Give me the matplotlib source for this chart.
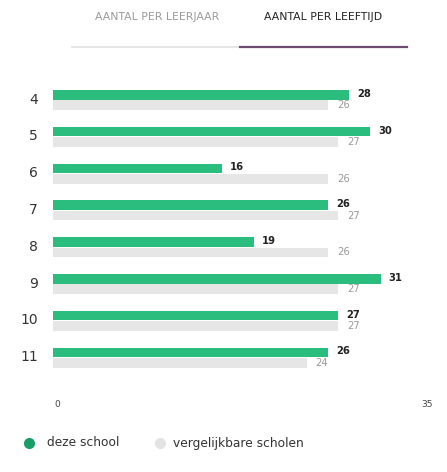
import matplotlib.pyplot as plt
import matplotlib.transforms as mtransforms
import numpy as np

plt.rcParams['font.family'] = ['DejaVu Sans']

ages = ['4', '5', '6', '7', '8', '9', '10', '11']
deze_school = [28, 30, 16, 26, 19, 31, 27, 26]
vergelijkbaar = [26, 27, 26, 27, 26, 27, 27, 24]
tabs = ['AANTAL PER LEERJAAR', 'AANTAL PER LEEFTIJD']
legend_names = ['deze school', 'vergelijkbare scholen']

green = '#2bbd7e'
grey = '#e6e6e6'

W, H = 447, 472
fig = plt.figure(figsize=(W / 100, H / 100), dpi=100)

def px(x0, y0, x1, y1):
    # pixel box (top-left origin) -> figure fraction rect
    return [x0 / W, 1 - y1 / H, (x1 - x0) / W, (y1 - y0) / H]

#---------- tabs ----------
fig.text(157 / W, 1 - 17 / H, tabs[0], ha='center', va='center',
         fontsize=7.8, color='#9a9a9a')
fig.text(323 / W, 1 - 17 / H, tabs[1], ha='center', va='center',
         fontsize=7.8, color='#222222')
fig.add_artist(plt.Line2D([72 / W, 238 / W], [1 - 47 / H, 1 - 47 / H],
                          color='#e2e2e2', lw=1.2))
fig.add_artist(plt.Line2D([240 / W, 407 / W], [1 - 47 / H, 1 - 47 / H],
                          color='#6e4a6e', lw=1.6))

#---------- bars ----------
ax = fig.add_axes(px(53, 81.6, 423, 376))
y = np.arange(len(ages))
h = 0.26
ax.barh(y - h / 2 - 0.01, deze_school, height=h, color=green)
ax.barh(y + h / 2 + 0.01, vergelijkbaar, height=h, color=grey)

for i in range(len(ages)):
    ax.annotate(str(deze_school[i]), (deze_school[i], y[i] - h / 2 - 0.04),
                xytext=(8, 0), textcoords='offset pixels', ha='left', va='center',
                fontsize=7.2, fontweight='bold', color='#222222')
    ax.annotate(str(vergelijkbaar[i]), (vergelijkbaar[i], y[i] + h / 2 + 0.01),
                xytext=(9, 0), textcoords='offset pixels', ha='left', va='center',
                fontsize=7.2, color='#999999')

ax.set_xlim(0, 35)
ax.set_ylim(len(ages) - 0.5, -0.5)
ax.set_yticks(y)
ax.set_yticklabels(ages, fontsize=10, color='#333333')
ax.tick_params(axis='y', length=0, pad=11)
shift_y = mtransforms.ScaledTranslation(0, 2 / 100, fig.dpi_scale_trans)
for lbl in ax.get_yticklabels():
    lbl.set_transform(lbl.get_transform() + shift_y)
ax.set_xticks([0, 35])
ax.set_xticklabels(['0', '35'], fontsize=6.5, color='#444444')
ax.tick_params(axis='x', length=0, pad=17)
shift = mtransforms.ScaledTranslation(4 / 100, 0, fig.dpi_scale_trans)
for lbl in ax.get_xticklabels():
    lbl.set_transform(lbl.get_transform() + shift)
for s in ax.spines.values():
    s.set_visible(False)

#---------- legend ----------
fig.add_artist(plt.Line2D([29 / W], [1 - 443 / H], marker='o', markersize=7,
                          color='#1a9e68', lw=0))
fig.text(47 / W, 1 - 443 / H, legend_names[0], ha='left', va='center',
         fontsize=8.8, color='#333333')
fig.add_artist(plt.Line2D([160 / W], [1 - 443 / H], marker='o', markersize=7,
                          color='#e3e3e3', lw=0))
fig.text(173 / W, 1 - 443 / H, legend_names[1], ha='left', va='center',
         fontsize=8.8, color='#333333')

fig.savefig('out.png', dpi=100)
